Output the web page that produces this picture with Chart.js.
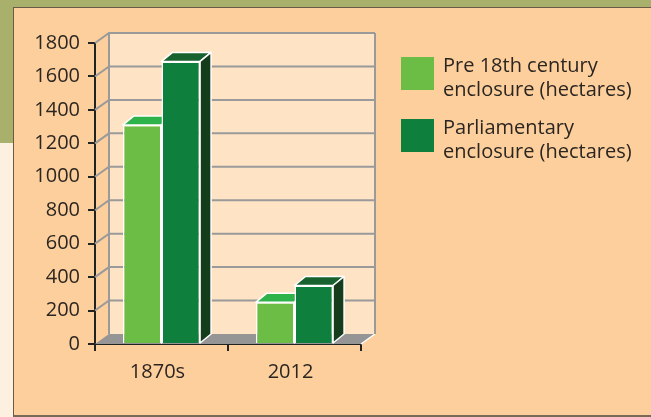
<!DOCTYPE html>
<html>
<head>
<meta charset="utf-8">
<script src="https://cdn.jsdelivr.net/npm/chart.js@4.4.1/dist/chart.umd.min.js"></script>
<style>
  body { margin: 0; width: 651px; height: 417px; overflow: hidden; background: #fdf0e1; position: relative; font-family: "Open Sans", sans-serif; }
  #band { position: absolute; left: 0; top: 0; width: 651px; height: 143px; background: #a9b06b; }
  #panel { position: absolute; left: 13px; top: 7px; width: 638px; height: 407px; background: #fdcf9c;
           border-left: 1px solid #6b5a46; border-top: 1px solid #6b5a46; border-bottom: 2px solid #7a6a55; }
  #chart { position: absolute; left: 0; top: 0; }
  .item { position: absolute; left: 401px; }
  .swatch { position: absolute; left: 0; top: 4px; width: 33px; height: 33px; }
  .label { position: absolute; left: 42px; top: 0; white-space: nowrap; font-size: 20px; line-height: 24px; color: #2b2622; }
</style>
</head>
<body>
<div id="band"></div>
<div id="panel"></div>
<canvas id="chart" width="651" height="417"></canvas>
<div id="legend"></div>
<script>
const categories = ["1870s", "2012"];
const preEnclosure = [1310, 250];
const parliamentary = [1690, 350];
const seriesNames = [
  ["Pre 18th century", "enclosure (hectares)"],
  ["Parliamentary", "enclosure (hectares)"],
];
const yMax = 1800;
const yStep = 200;

const frontColors = ["#6bbd45", "#0e7f3d"];
const topColors = ["#2eb34a", "#17622e"];
const sideColors = ["#3a8a2f", "#163d1b"];

// legend as html text
const legendTops = [53, 115];
seriesNames.forEach((lines, i) => {
  const item = document.createElement("div");
  item.className = "item";
  item.style.top = legendTops[i] + "px";
  item.innerHTML =
    '<div class="swatch" style="background:' + frontColors[i] + '"></div>' +
    '<div class="label">' + lines.join("<br>") + "</div>";
  document.getElementById("legend").appendChild(item);
});

const wallDX = 14, wallDY = -10;
const barDX = 11, barDY = -9;

function poly(ctx, pts) {
  ctx.beginPath();
  ctx.moveTo(pts[0][0], pts[0][1]);
  for (let k = 1; k < pts.length; k++) ctx.lineTo(pts[k][0], pts[k][1]);
  ctx.closePath();
}

const threeD = {
  id: "threeD",
  beforeDatasetsDraw(chart) {
    const { ctx, chartArea: a } = chart;
    const y = chart.scales.y;
    ctx.save();
    // back wall
    ctx.fillStyle = "#ffe3c5";
    ctx.fillRect(a.left + wallDX, a.top + wallDY, a.right - a.left, a.bottom - a.top);
    // floor
    ctx.fillStyle = "#959595";
    poly(ctx, [[a.left, a.bottom], [a.right, a.bottom], [a.right + wallDX, a.bottom + wallDY], [a.left + wallDX, a.bottom + wallDY]]);
    ctx.fill();
    ctx.strokeStyle = "#ffffff";
    ctx.lineWidth = 1.5;
    ctx.beginPath();
    ctx.moveTo(a.right, a.bottom);
    ctx.lineTo(a.right + wallDX, a.bottom + wallDY);
    ctx.stroke();
    // grid on side and back wall
    ctx.strokeStyle = "#9a9a9a";
    ctx.lineWidth = 2;
    y.ticks.forEach((t) => {
      if (t.value === 0) return;
      const py = y.getPixelForValue(t.value);
      ctx.beginPath();
      ctx.moveTo(a.left, py);
      ctx.lineTo(a.left + wallDX, py + wallDY);
      ctx.lineTo(a.right + wallDX, py + wallDY);
      ctx.stroke();
    });
    ctx.beginPath();
    ctx.moveTo(a.left + wallDX, a.top + wallDY);
    ctx.lineTo(a.left + wallDX, a.bottom + wallDY);
    ctx.moveTo(a.right + wallDX, a.top + wallDY);
    ctx.lineTo(a.right + wallDX, a.bottom + wallDY);
    ctx.stroke();
    // bar tops and sides
    ctx.strokeStyle = "#ffffff";
    ctx.lineWidth = 1.5;
    ctx.lineJoin = "round";
    chart.data.datasets.forEach((ds, i) => {
      chart.getDatasetMeta(i).data.forEach((bar) => {
        const x0 = bar.x - bar.width / 2;
        const x1 = bar.x + bar.width / 2;
        const top = bar.y, base = bar.base;
        poly(ctx, [[x0, top], [x1, top], [x1 + barDX, top + barDY], [x0 + barDX, top + barDY]]);
        ctx.fillStyle = topColors[i];
        ctx.fill();
        ctx.stroke();
        poly(ctx, [[x1, top], [x1 + barDX, top + barDY], [x1 + barDX, base + barDY], [x1, base]]);
        ctx.fillStyle = sideColors[i];
        ctx.fill();
        ctx.stroke();
      });
    });
    ctx.restore();
  },
};

const tickFont = { family: "Open Sans", size: 20 };

new Chart(document.getElementById("chart"), {
  type: "bar",
  data: {
    labels: categories,
    datasets: [
      {
        label: seriesNames[0].join(" "),
        data: preEnclosure,
        backgroundColor: frontColors[0],
        borderColor: "#ffffff",
        borderWidth: 1.5,
      },
      {
        label: seriesNames[1].join(" "),
        data: parliamentary,
        backgroundColor: frontColors[1],
        borderColor: "#ffffff",
        borderWidth: 1.5,
      },
    ],
  },
  options: {
    responsive: false,
    animation: false,
    layout: { padding: { left: 0, top: 43, right: 290, bottom: 0 } },
    datasets: { bar: { categoryPercentage: 0.58, barPercentage: 1.0 } },
    plugins: { legend: { display: false }, tooltip: { enabled: false } },
    scales: {
      x: {
        z: 1,
        afterFit: (scale) => { scale.height = 73; },
        grid: { drawOnChartArea: false, tickLength: 7, color: "#222", lineWidth: 2 },
        border: { color: "#222", width: 2 },
        ticks: { font: tickFont, color: "#2b2622", padding: 9, labelOffset: -4 },
      },
      y: {
        z: 1,
        min: 0,
        max: yMax,
        afterFit: (scale) => { scale.width = 95; },
        grid: { drawOnChartArea: false, tickLength: 7, color: "#222", lineWidth: 2 },
        border: { color: "#222", width: 2 },
        ticks: { stepSize: yStep, font: tickFont, color: "#2b2622", padding: 8, callback: (v) => String(v) },
      },
    },
  },
  plugins: [threeD],
});
</script>
</body>
</html>
